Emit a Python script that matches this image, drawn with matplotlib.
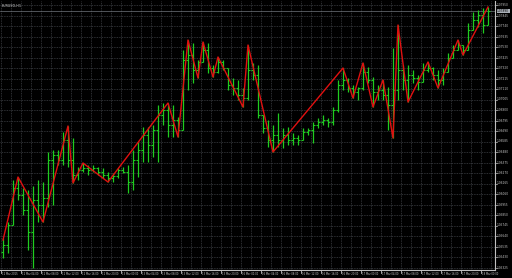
import numpy as np
import pandas as pd
import matplotlib
matplotlib.use("Agg")
import matplotlib.pyplot as plt

# EURUSD H1 bars (prices)
opens = [1.0548, 1.0555, 1.0575, 1.0612, 1.0605, 1.0590, 1.0568, 1.0600, 1.0595, 1.0602,
         1.0640, 1.0645, 1.0640, 1.0660, 1.0640, 1.0625, 1.0630, 1.0632, 1.0630, 1.0632,
         1.0628, 1.0625, 1.0622, 1.0624, 1.0630, 1.0628, 1.0618, 1.0640, 1.0650, 1.0665,
         1.0655, 1.0670, 1.0685, 1.0690, 1.0675, 1.0680, 1.0670, 1.0740, 1.0745, 1.0730,
         1.0738, 1.0750, 1.0732, 1.0728, 1.0738, 1.0732, 1.0715, 1.0712, 1.0705, 1.0702,
         1.0730, 1.0725, 1.0685, 1.0672, 1.0660, 1.0665, 1.0660, 1.0665, 1.0660, 1.0662,
         1.0660, 1.0668, 1.0670, 1.0675, 1.0678, 1.0680, 1.0678, 1.0690, 1.0715, 1.0720,
         1.0712, 1.0708, 1.0712, 1.0728, 1.0720, 1.0708, 1.0710, 1.0705, 1.0695, 1.0710,
         1.0730, 1.0720, 1.0725, 1.0722, 1.0718, 1.0730, 1.0732, 1.0725, 1.0720, 1.0728,
         1.0742, 1.0750, 1.0755, 1.0750, 1.0770, 1.0780, 1.0785, 1.0775]
highs = [1.0562, 1.0578, 1.0620, 1.0623, 1.0612, 1.0610, 1.0614, 1.0620, 1.0618, 1.0648,
         1.0650, 1.0650, 1.0668, 1.0674, 1.0662, 1.0633, 1.0637, 1.0635, 1.0635, 1.0633,
         1.0632, 1.0628, 1.0627, 1.0632, 1.0633, 1.0635, 1.0650, 1.0658, 1.0673, 1.0673,
         1.0675, 1.0695, 1.0697, 1.0697, 1.0695, 1.0683, 1.0750, 1.0760, 1.0757, 1.0740,
         1.0758, 1.0757, 1.0735, 1.0743, 1.0740, 1.0732, 1.0722, 1.0720, 1.0712, 1.0755,
         1.0737, 1.0735, 1.0685, 1.0680, 1.0675, 1.0687, 1.0672, 1.0673, 1.0667, 1.0665,
         1.0672, 1.0672, 1.0678, 1.0682, 1.0685, 1.0682, 1.0693, 1.0720, 1.0732, 1.0722,
         1.0715, 1.0713, 1.0737, 1.0733, 1.0723, 1.0715, 1.0720, 1.0713, 1.0752, 1.0775,
         1.0735, 1.0735, 1.0730, 1.0725, 1.0737, 1.0738, 1.0733, 1.0730, 1.0732, 1.0747,
         1.0755, 1.0760, 1.0755, 1.0777, 1.0788, 1.0790, 1.0792, 1.0793]
lows = [1.0542, 1.0547, 1.0575, 1.0600, 1.0585, 1.0550, 1.0532, 1.0578, 1.0578, 1.0593,
        1.0595, 1.0635, 1.0635, 1.0633, 1.0617, 1.0620, 1.0628, 1.0625, 1.0628, 1.0625,
        1.0622, 1.0618, 1.0618, 1.0622, 1.0627, 1.0607, 1.0610, 1.0623, 1.0638, 1.0638,
        1.0643, 1.0638, 1.0675, 1.0663, 1.0663, 1.0663, 1.0670, 1.0710, 1.0717, 1.0722,
        1.0738, 1.0727, 1.0723, 1.0727, 1.0730, 1.0710, 1.0705, 1.0700, 1.0693, 1.0700,
        1.0720, 1.0682, 1.0667, 1.0653, 1.0648, 1.0653, 1.0652, 1.0655, 1.0655, 1.0655,
        1.0660, 1.0665, 1.0657, 1.0672, 1.0675, 1.0673, 1.0675, 1.0688, 1.0710, 1.0708,
        1.0702, 1.0700, 1.0710, 1.0717, 1.0693, 1.0700, 1.0700, 1.0670, 1.0662, 1.0700,
        1.0710, 1.0698, 1.0717, 1.0710, 1.0718, 1.0728, 1.0720, 1.0712, 1.0715, 1.0728,
        1.0742, 1.0750, 1.0745, 1.0750, 1.0770, 1.0773, 1.0767, 1.0775]
closes = [1.0555, 1.0575, 1.0612, 1.0605, 1.0590, 1.0568, 1.0600, 1.0595, 1.0602, 1.0640,
          1.0645, 1.0640, 1.0660, 1.0640, 1.0625, 1.0630, 1.0632, 1.0630, 1.0632, 1.0628,
          1.0625, 1.0622, 1.0624, 1.0630, 1.0628, 1.0618, 1.0640, 1.0650, 1.0665, 1.0655,
          1.0670, 1.0685, 1.0690, 1.0675, 1.0680, 1.0670, 1.0740, 1.0745, 1.0730, 1.0738,
          1.0750, 1.0732, 1.0728, 1.0738, 1.0732, 1.0715, 1.0712, 1.0705, 1.0702, 1.0730,
          1.0725, 1.0685, 1.0672, 1.0660, 1.0665, 1.0660, 1.0665, 1.0660, 1.0662, 1.0660,
          1.0668, 1.0670, 1.0675, 1.0678, 1.0680, 1.0678, 1.0690, 1.0715, 1.0720, 1.0712,
          1.0708, 1.0712, 1.0728, 1.0720, 1.0708, 1.0710, 1.0705, 1.0695, 1.0710, 1.0730,
          1.0720, 1.0725, 1.0722, 1.0718, 1.0730, 1.0732, 1.0725, 1.0720, 1.0728, 1.0742,
          1.0750, 1.0755, 1.0750, 1.0770, 1.0780, 1.0785, 1.0775, 1.0789]

# zigzag indicator turning points (bar index, price)
zz_idx = [0, 3, 8, 13, 14, 16, 21, 33, 35, 37, 39, 40, 42, 43, 48, 49, 54,
          68, 70, 72, 74, 76, 78, 79, 81, 85, 87, 91, 92, 97]
zz_price = [1.0560, 1.0623, 1.0578, 1.0674, 1.0617, 1.0637, 1.0618, 1.0697, 1.0663,
            1.0760, 1.0722, 1.0758, 1.0723, 1.0743, 1.0693, 1.0755, 1.0648,
            1.0732, 1.0702, 1.0737, 1.0693, 1.0720, 1.0662, 1.0775, 1.0698,
            1.0738, 1.0712, 1.0760, 1.0745, 1.0793]

symbol = "EURUSD,H1"
start_time = "2015-03-12 00:00"

n = len(opens)
x = np.arange(n)

# hourly bar times, skipping the weekend
times = pd.date_range(start_time, periods=n + 60, freq="h")
times = times[times.dayofweek < 5][:n]

fig = plt.figure(figsize=(5.12, 2.78), dpi=100, facecolor="black")
ax = fig.add_axes([0.0, 8 / 278, 495 / 512, 269 / 278], facecolor="black")

ytop, ybot = 1.0799, 1.0530
ax.set_ylim(ybot, ytop)
ax.set_xlim(-0.6, 98.4)

# grid
ystep = 0.00105
yticks = 1.0795 - ystep * np.arange(26)
for yv in yticks:
    ax.axhline(yv, color="#3c3f44", lw=0.6, ls=(0, (1, 1)), zorder=0)
for xv in np.arange(0, n + 1, 2):
    ax.axvline(xv - 0.4, color="#3c3f44", lw=0.6, ls=(0, (1, 1)), zorder=0)

# OHLC bars
green = "#1fcc1f"
ax.vlines(x, lows, highs, color=green, lw=0.9, zorder=2)
ax.hlines(opens, x - 0.35, x, color=green, lw=0.8, zorder=2)
ax.hlines(closes, x, x + 0.35, color=green, lw=0.8, zorder=2)

# zigzag
ax.plot(zz_idx, zz_price, color="#e01010", lw=1.0, zorder=3)

# bid line
ax.axhline(closes[-1], color="#70757c", lw=0.5, zorder=1)

ax.set_xticks([])
ax.set_yticks([])
for s in ["top", "left"]:
    ax.spines[s].set_visible(False)
ax.spines["right"].set_color("#c0c0c0")
ax.spines["bottom"].set_color("#c0c0c0")
ax.spines["right"].set_linewidth(0.8)
ax.spines["bottom"].set_linewidth(0.8)

# price scale on the right
for yv in yticks:
    ax.annotate(f"{yv:.5f}", xy=(1, yv), xycoords=("axes fraction", "data"),
                xytext=(1.5, 0), textcoords="offset points", fontsize=2.1,
                color="#c8c8c8", va="center", ha="left", annotation_clip=False)
    ax.plot([98.4, 98.8], [yv, yv], color="#c0c0c0", lw=0.5, clip_on=False)
ax.annotate(f"{closes[-1]:.5f}", xy=(1, closes[-1]), xycoords=("axes fraction", "data"),
            xytext=(1.5, 0), textcoords="offset points", fontsize=2.1,
            color="black", va="center", ha="left", annotation_clip=False,
            bbox=dict(boxstyle="square,pad=0.15", fc="#aab0b8", ec="none"))

# time scale at the bottom
for i in range(0, n, 4):
    t = times[i]
    lab = t.strftime("%d %b %Y") if i == 0 else t.strftime("%d %b %H:%M")
    ax.annotate(lab, xy=(i - 0.5, 0), xycoords=("data", "axes fraction"),
                xytext=(1, -1.5), textcoords="offset points", fontsize=1.8,
                color="#c8c8c8", va="top", ha="left", annotation_clip=False)
    ax.plot([i - 0.5, i - 0.5], [ybot, ybot - 0.0003], color="#c0c0c0", lw=0.6,
            clip_on=False)

fig.text(0.004, 0.985, symbol, fontsize=2.4, color="#d0d0d0", va="top", ha="left")

fig.savefig("out.png", dpi=100, facecolor="black")
